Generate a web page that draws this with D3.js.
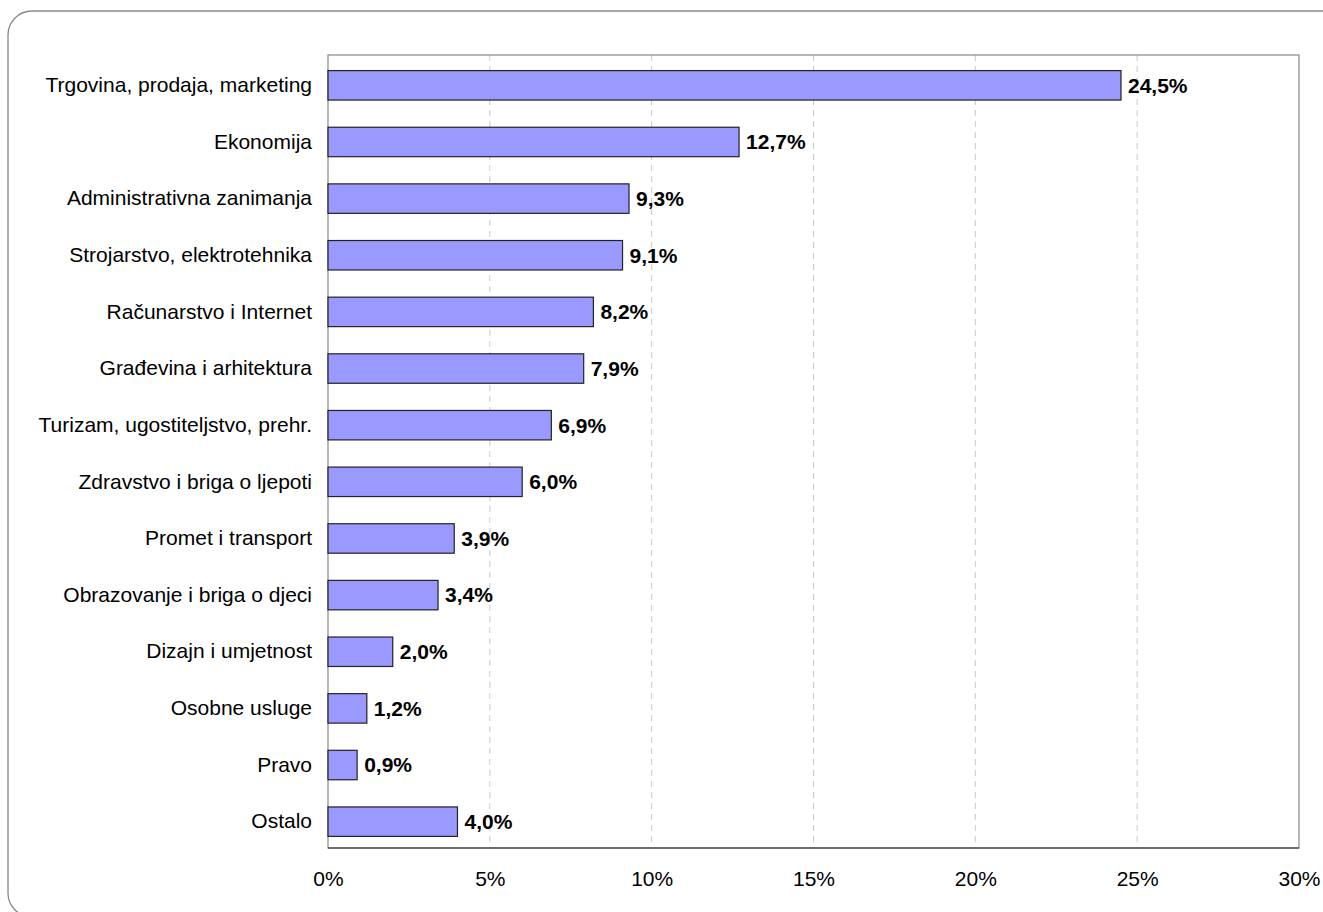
<!DOCTYPE html>
<html>
<head>
<meta charset="utf-8">
<script src="https://cdn.jsdelivr.net/npm/d3@7"></script>
<style>
  body { margin: 0; background: #fff; }
  text { font-family: "Liberation Sans", Arial, sans-serif; }
</style>
</head>
<body>
<div id="chart"></div>
<script>
// data
var categories = ["Trgovina, prodaja, marketing", "Ekonomija", "Administrativna zanimanja",
  "Strojarstvo, elektrotehnika", "Računarstvo i Internet", "Građevina i arhitektura",
  "Turizam, ugostiteljstvo, prehr.", "Zdravstvo i briga o ljepoti", "Promet i transport",
  "Obrazovanje i briga o djeci", "Dizajn i umjetnost", "Osobne usluge", "Pravo", "Ostalo"];
var values = [24.5, 12.7, 9.3, 9.1, 8.2, 7.9, 6.9, 6.0, 3.9, 3.4, 2.0, 1.2, 0.9, 4.0];
var ticks = [0, 5, 10, 15, 20, 25, 30];

var W = 1323, H = 912;
var margin = {top: 55, right: 24, bottom: 64, left: 328},
    width = W - margin.left - margin.right,
    height = H - margin.top - margin.bottom;

var root = d3.select("#chart")
  .append("svg")
    .attr("width", W)
    .attr("height", H);

// rounded outer frame
root.append("rect")
    .attr("x", 8).attr("y", 11)
    .attr("width", 1340).attr("height", 906)
    .attr("rx", 24).attr("ry", 24)
    .attr("fill", "none")
    .attr("stroke", "#888")
    .attr("stroke-width", 1.3);

var svg = root.append("g")
    .attr("transform", "translate(" + margin.left + "," + margin.top + ")");

var x = d3.scaleLinear().domain([0, 30]).range([0, width]);
var y = d3.scaleBand()
    .domain(categories)
    .range([2, height + 2])
    .paddingInner(0.48)
    .paddingOuter(0.24);

// dashed gridlines
svg.selectAll(".grid")
    .data(ticks.slice(1, -1))
    .enter()
    .append("line")
      .attr("x1", d => x(d)).attr("x2", d => x(d))
      .attr("y1", 0).attr("y2", height)
      .attr("stroke", "#c8c8c8")
      .attr("stroke-dasharray", "6,5");

// plot frame
svg.append("rect")
    .attr("width", width).attr("height", height)
    .attr("fill", "none")
    .attr("stroke", "#888")
    .attr("stroke-width", 1.2);
svg.append("line")
    .attr("x1", 0).attr("x2", width)
    .attr("y1", height).attr("y2", height)
    .attr("stroke", "#555").attr("stroke-width", 1.5);

// x axis
var xAxis = svg.append("g")
    .attr("transform", "translate(0," + height + ")")
    .call(d3.axisBottom(x).tickValues(ticks).tickSize(0).tickPadding(23).tickFormat(d => d + "%"));
xAxis.select(".domain").remove();
xAxis.selectAll("text").attr("font-size", 21).attr("fill", "#000")
    .style("font-family", "'Liberation Sans', Arial, sans-serif");

// y axis labels
var yAxis = svg.append("g")
    .call(d3.axisLeft(y).tickSize(0).tickPadding(16));
yAxis.select(".domain").remove();
yAxis.selectAll("text").attr("font-size", 21).attr("fill", "#000")
    .style("font-family", "'Liberation Sans', Arial, sans-serif");

var data = categories.map((c, i) => ({name: c, value: values[i]}));

// bars
svg.selectAll(".bar")
    .data(data)
    .enter()
    .append("rect")
      .attr("x", 0)
      .attr("y", d => y(d.name))
      .attr("width", d => x(d.value))
      .attr("height", y.bandwidth())
      .attr("fill", "#9999ff")
      .attr("stroke", "#222")
      .attr("stroke-width", 1.2);

// value labels
svg.selectAll(".lbl")
    .data(data)
    .enter()
    .append("text")
      .attr("x", d => x(d.value) + 7)
      .attr("y", d => y(d.name) + y.bandwidth() / 2)
      .attr("dy", "0.35em")
      .attr("font-size", 21)
      .attr("font-weight", "bold")
      .text(d => d.value.toFixed(1).replace(".", ",") + "%");
</script>
</body>
</html>
